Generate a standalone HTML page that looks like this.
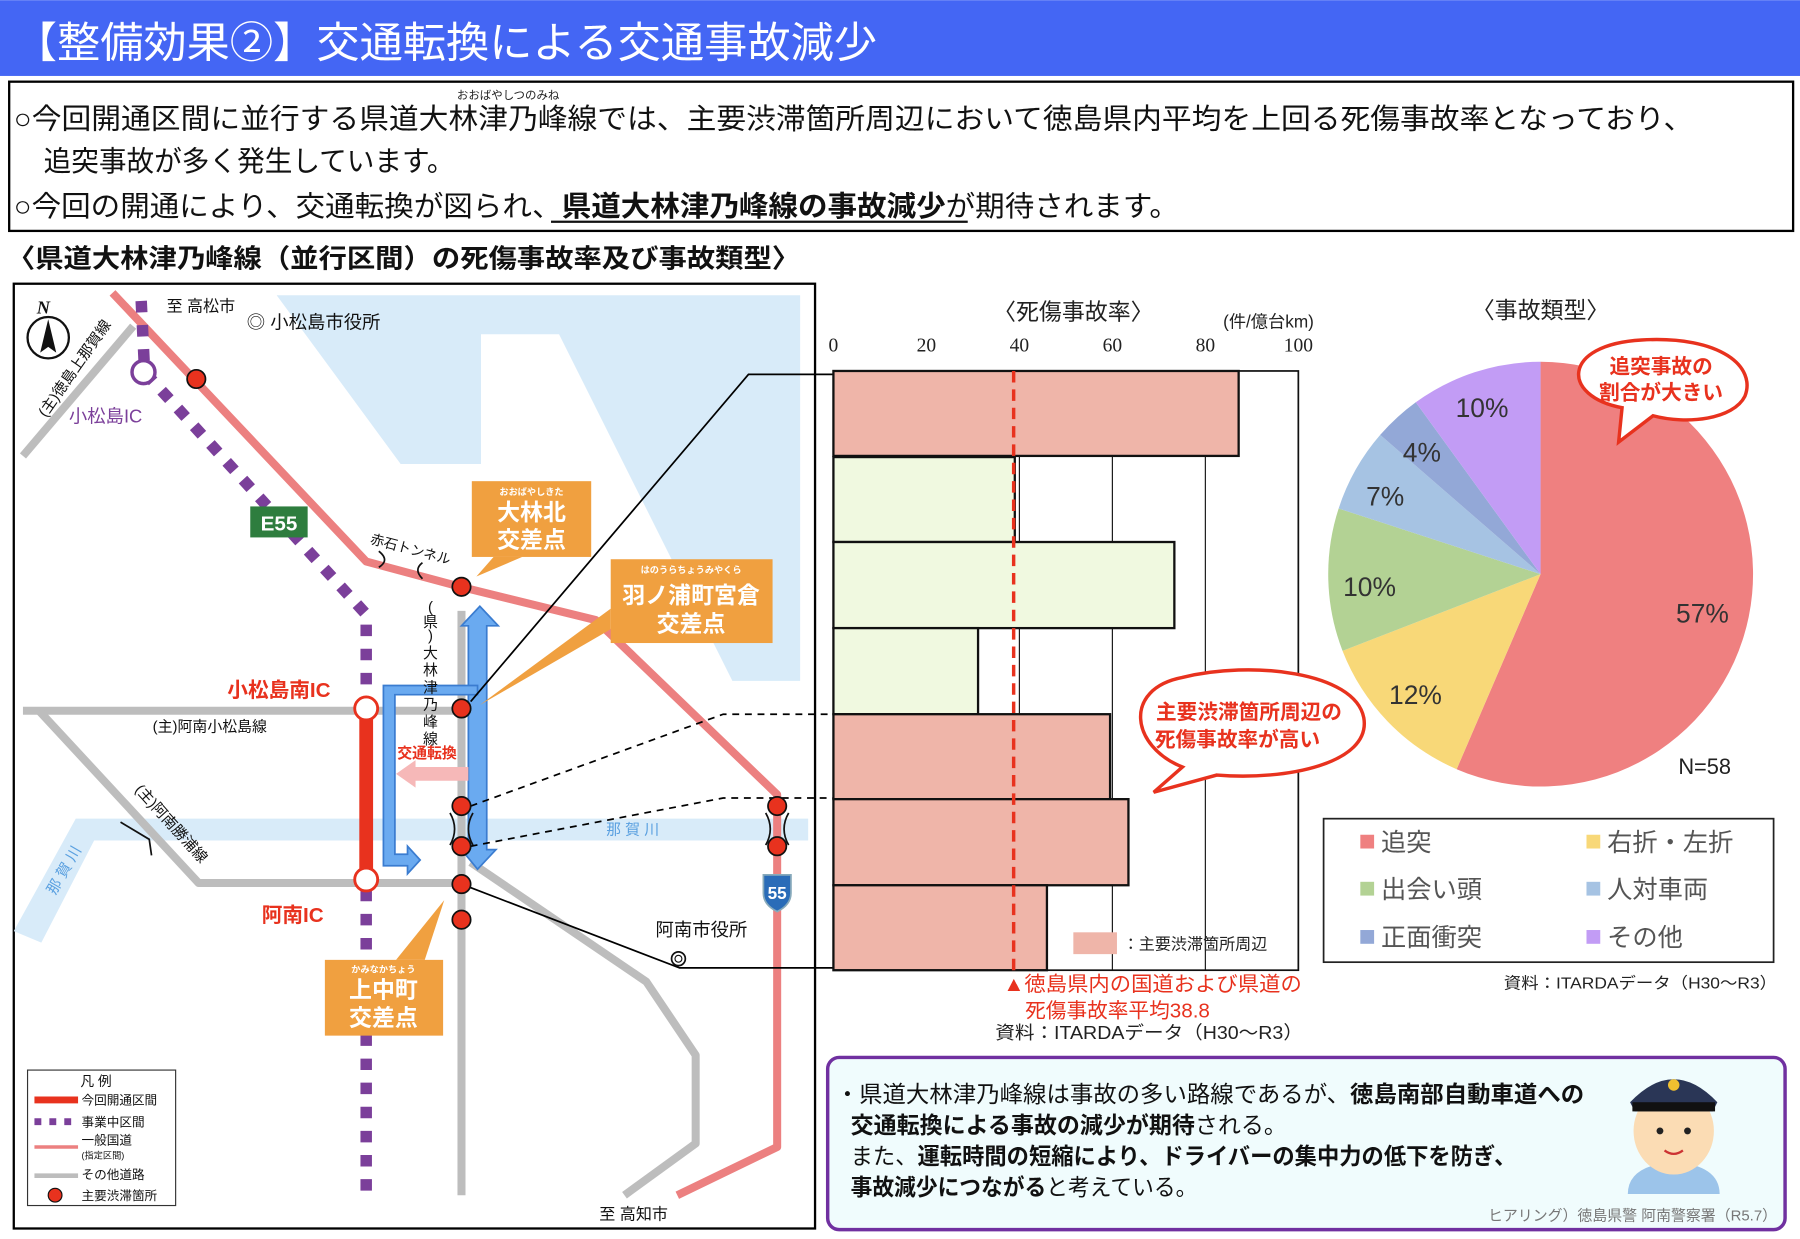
<!DOCTYPE html>
<html><head><meta charset="utf-8"><style>
html,body{margin:0;padding:0;background:#fff;}
svg{display:block;font-family:"Liberation Sans","Noto Sans CJK JP",sans-serif;}
.b{font-weight:bold}
</style></head><body>
<svg width="1800" height="1239" viewBox="0 0 1568 1079" xmlns="http://www.w3.org/2000/svg">
<rect width="1568" height="1079" fill="#fff"/>
<rect x="0" y="0" width="1568" height="66" fill="#4466f4"/>
<text x="12" y="50" font-size="37" fill="#fff" textLength="752" lengthAdjust="spacingAndGlyphs">【整備効果②】交通転換による交通事故減少</text>
<rect x="8" y="71" width="1554" height="130" fill="#fff" stroke="#000" stroke-width="2"/>
<text x="398" y="86" font-size="10" fill="#222">おおばやしつのみね</text>
<text x="12" y="112" font-size="25" fill="#111" textLength="1463" lengthAdjust="spacingAndGlyphs">○今回開通区間に並行する県道大林津乃峰線では、主要渋滞箇所周辺において徳島県内平均を上回る死傷事故率となっており、</text>
<text x="38" y="149" font-size="25" fill="#111" textLength="358" lengthAdjust="spacingAndGlyphs">追突事故が多く発生しています。</text>
<text x="12" y="188" font-size="25" fill="#111" textLength="1015" lengthAdjust="spacingAndGlyphs">○今回の開通により、交通転換が図られ、<tspan class="b">県道大林津乃峰線の事故減少</tspan>が期待されます。</text>
<line x1="480" y1="193" x2="843" y2="193" stroke="#111" stroke-width="2"/>
<text x="6" y="233" font-size="23" class="b" fill="#111" textLength="691" lengthAdjust="spacingAndGlyphs">〈県道大林津乃峰線（並行区間）の死傷事故率及び事故類型〉</text>

<!-- MAP -->
<rect x="12" y="247" width="698" height="823" fill="#fff" stroke="#000" stroke-width="2"/>
<polygon points="241,257 697,257 697,593 638,593 487,291 419,291 419,404 349,404" fill="#d8ebf9"/>
<polygon points="66,713 704,713 704,732 82,732 36,821 12,811" fill="#d8ebf9"/>
<g stroke="#bdbdbd" stroke-width="7" fill="none" stroke-linejoin="round">
<line x1="20" y1="397" x2="116" y2="284"/>
<line x1="20" y1="619" x2="401" y2="619"/>
<polyline points="34,619 173,769 401,769"/>
<line x1="402" y1="532" x2="402" y2="1041"/>
<polyline points="410,751 563,855 606,919 606,996 544,1041"/>
</g>
<polyline points="98,255 319,489 401,511 519,540 677,692 677,999 590,1041" fill="none" stroke="#ec8080" stroke-width="7" stroke-linejoin="round"/>
<polyline points="123,262 126,324 319,535 319,1041" fill="none" stroke="#7b3f9a" stroke-width="10" stroke-dasharray="10 11"/>
<circle cx="125" cy="324" r="10" fill="#fff" stroke="#7b3f9a" stroke-width="3"/>
<line x1="319" y1="619" x2="319" y2="766" stroke="#e8321e" stroke-width="12"/>
<circle cx="319" cy="617" r="10" fill="#fff" stroke="#e8321e" stroke-width="2.5"/>
<circle cx="319" cy="766" r="10" fill="#fff" stroke="#e8321e" stroke-width="2.5"/>
<!-- blue arrows -->
<polygon points="402,545 418,528 434,545 424,545 424,740 432,740 416,757 402,740 408,740 408,545" fill="#6aaaf0" stroke="#3a7cd0" stroke-width="1.5"/>
<polygon points="416,597 416,605 344,605 344,744 355,744 355,737 366,749 355,761 355,754 334,754 334,597" fill="#6aaaf0" stroke="#3a7cd0" stroke-width="1.5"/>
<polygon points="408,668 362,668 362,662 345,674 362,686 362,680 408,680" fill="#f6b8b8"/>
<text x="346" y="660" font-size="13" class="b" fill="#e8321e">交通転換</text>
<!-- leader lines -->
<polyline points="410,611 652,326 726,326" fill="none" stroke="#000" stroke-width="1.5"/>
<polyline points="410,702 630,622 726,622" fill="none" stroke="#000" stroke-width="1.5" stroke-dasharray="6 5"/>
<polyline points="410,737 630,695 726,695" fill="none" stroke="#000" stroke-width="1.5" stroke-dasharray="6 5"/>
<polyline points="402,770 592,843 726,843" fill="none" stroke="#000" stroke-width="1.5"/>
<g fill="#e8321e" stroke="#111" stroke-width="1.5">
<circle cx="171" cy="330" r="8"/><circle cx="402" cy="511" r="8"/><circle cx="402" cy="617" r="8"/>
<circle cx="402" cy="702" r="8"/><circle cx="402" cy="737" r="8"/><circle cx="402" cy="770" r="8"/>
<circle cx="402" cy="801" r="8"/><circle cx="677" cy="702" r="8"/><circle cx="677" cy="737" r="8"/>
</g>
<g fill="none" stroke="#111" stroke-width="1.5">
<path d="M392,708 q8,14 0,28 M412,708 q-8,14 0,28"/>
<path d="M667,708 q8,14 0,28 M687,708 q-8,14 0,28"/>
<path d="M330,480 q10,8 0,14 M368,490 q-8,6 0,14"/>
<path d="M105,716 l25,15 l2,14"/>
</g>
<!-- orange boxes -->
<polygon points="430,485 455,485 415,502" fill="#f0a040"/>
<rect x="411" y="419" width="104" height="66" fill="#f0a040"/>
<text x="463" y="431" font-size="8" class="b" fill="#fff" text-anchor="middle">おおばやしきた</text>
<text x="463" y="453" font-size="20" class="b" fill="#fff" text-anchor="middle">大林北</text>
<text x="463" y="477" font-size="20" class="b" fill="#fff" text-anchor="middle">交差点</text>
<polygon points="532,530 532,548 418,614" fill="#f0a040"/>
<rect x="532" y="487" width="141" height="73" fill="#f0a040"/>
<text x="602" y="499" font-size="8" class="b" fill="#fff" text-anchor="middle">はのうらちょうみやくら</text>
<text x="602" y="525" font-size="20" class="b" fill="#fff" text-anchor="middle">羽ノ浦町宮倉</text>
<text x="602" y="550" font-size="20" class="b" fill="#fff" text-anchor="middle">交差点</text>
<polygon points="345,836 370,836 387,784" fill="#f0a040"/>
<rect x="283" y="836" width="103" height="66" fill="#f0a040"/>
<text x="334" y="847" font-size="8" class="b" fill="#fff" text-anchor="middle">かみなかちょう</text>
<text x="334" y="869" font-size="20" class="b" fill="#fff" text-anchor="middle">上中町</text>
<text x="334" y="893" font-size="20" class="b" fill="#fff" text-anchor="middle">交差点</text>
<!-- labels -->
<rect x="218" y="441" width="50" height="27" fill="#2e7d3e"/>
<text x="243" y="462" font-size="18" class="b" fill="#fff" text-anchor="middle">E55</text>
<path d="M665,762 h24 v16 q0,10 -12,16 q-12,-6 -12,-16 z" fill="#2a6cb8" stroke="#8ab" stroke-width="1.5"/>
<text x="677" y="783" font-size="15" class="b" fill="#fff" text-anchor="middle">55</text>
<text x="145" y="271" font-size="14" fill="#111">至 高松市</text>
<text x="215" y="286" font-size="16" fill="#111">◎ 小松島市役所</text>
<text x="60" y="368" font-size="16" fill="#7b3f9a">小松島IC</text>
<text x="322" y="473" font-size="12" fill="#111" transform="rotate(15 322 473)">赤石トンネル</text>
<text x="198" y="607" font-size="18" class="b" fill="#e8321e">小松島南IC</text>
<text x="228" y="803" font-size="18" class="b" fill="#e8321e">阿南IC</text>
<text x="133" y="637" font-size="13" fill="#111">(主)阿南小松島線</text>
<text x="528" y="727" font-size="13" fill="#5aa0e0">那 賀 川</text>
<text x="48" y="780" font-size="13" fill="#5aa0e0" transform="rotate(-60 48 780)">那 賀 川</text>
<text x="117" y="688" font-size="13" fill="#111" transform="rotate(48 117 688)">(主)阿南勝浦線</text>
<text x="40" y="364" font-size="13" fill="#111" transform="rotate(-55 40 364)">(主)徳島上那賀線</text>
<g font-size="13" fill="#111" text-anchor="middle">
<text x="375" y="533">(</text><text x="375" y="546">県</text><text x="375" y="558">)</text><text x="375" y="573">大</text><text x="375" y="588">林</text><text x="375" y="603">津</text><text x="375" y="618">乃</text><text x="375" y="633">峰</text><text x="375" y="648">線</text>
</g>
<text x="571" y="815" font-size="16" fill="#111">阿南市役所</text>
<circle cx="591" cy="835" r="6" fill="none" stroke="#111" stroke-width="1.5"/><circle cx="591" cy="835" r="3" fill="none" stroke="#111"/>
<text x="522" y="1062" font-size="14" fill="#111">至 高知市</text>
<!-- compass -->
<text x="32" y="273" font-size="16" font-style="italic" class="b" fill="#111" font-family="Liberation Serif,serif">N</text>
<circle cx="42" cy="294" r="18" fill="#fff" stroke="#111" stroke-width="2"/>
<polygon points="42,278 35,307 42,302 49,307" fill="#111"/>
<!-- legend -->
<rect x="24" y="932" width="129" height="118" fill="#fff" stroke="#333" stroke-width="1"/>
<text x="70" y="946" font-size="12" fill="#111">凡 例</text>
<line x1="30" y1="958" x2="68" y2="958" stroke="#e8321e" stroke-width="6"/><text x="71" y="962" font-size="11" fill="#111">今回開通区間</text>
<line x1="30" y1="977" x2="68" y2="977" stroke="#7b3f9a" stroke-width="6" stroke-dasharray="6 7"/><text x="71" y="981" font-size="11" fill="#111">事業中区間</text>
<line x1="30" y1="999" x2="68" y2="999" stroke="#ec8080" stroke-width="3"/><text x="71" y="997" font-size="11" fill="#111">一般国道</text><text x="71" y="1009" font-size="8" fill="#111">(指定区間)</text>
<line x1="30" y1="1024" x2="68" y2="1024" stroke="#bdbdbd" stroke-width="4"/><text x="71" y="1027" font-size="11" fill="#111">その他道路</text>
<circle cx="48" cy="1041" r="6" fill="#e8321e" stroke="#111"/><text x="71" y="1045" font-size="11" fill="#111">主要渋滞箇所</text>

<!-- BAR CHART -->
<text x="935" y="278" font-size="20" fill="#222" text-anchor="middle">〈死傷事故率〉</text>
<text x="1105" y="285" font-size="15" fill="#222" text-anchor="middle">(件/億台km)</text>
<g font-size="17" fill="#222" text-anchor="middle" font-family="Liberation Serif,serif">
<text x="726" y="306">0</text><text x="807" y="306">20</text><text x="888" y="306">40</text><text x="969" y="306">60</text><text x="1050" y="306">80</text><text x="1131" y="306">100</text>
</g>
<rect x="726" y="323" width="405" height="522" fill="#fff" stroke="#111" stroke-width="1.5"/>
<g stroke="#111" stroke-width="1"><line x1="888" y1="323" x2="888" y2="845"/><line x1="969" y1="323" x2="969" y2="845"/><line x1="1050" y1="323" x2="1050" y2="845"/></g>
<g stroke="#111" stroke-width="2">
<rect x="726" y="323" width="353" height="74" fill="#efb5a9"/>
<rect x="726" y="398" width="158" height="74" fill="#f0f9e0"/>
<rect x="726" y="472" width="297" height="75" fill="#f0f9e0"/>
<rect x="726" y="547" width="126" height="75" fill="#f0f9e0"/>
<rect x="726" y="622" width="241" height="74" fill="#efb5a9"/>
<rect x="726" y="696" width="257" height="75" fill="#efb5a9"/>
<rect x="726" y="771" width="186" height="74" fill="#efb5a9"/>
</g>
<line x1="883" y1="323" x2="883" y2="845" stroke="#e8321e" stroke-width="3" stroke-dasharray="10 6"/>
<rect x="935" y="812" width="38" height="19" fill="#efb5a9"/>
<text x="978" y="827" font-size="14" fill="#222">：主要渋滞箇所周辺</text>
<text x="874" y="863" font-size="18" fill="#e8321e" textLength="260" lengthAdjust="spacingAndGlyphs">▲徳島県内の国道および県道の</text>
<text x="893" y="886" font-size="18" fill="#e8321e">死傷事故率平均38.8</text>
<text x="867" y="905" font-size="16" fill="#222" textLength="268" lengthAdjust="spacingAndGlyphs">資料：ITARDAデータ（H30～R3）</text>
<!-- callout -->
<path d="M1005,690 L1030,668 C985,650 978,600 1030,590 C1090,575 1180,585 1188,625 C1195,665 1120,680 1060,675 Z" fill="#fff" stroke="#e8321e" stroke-width="3"/>
<text x="1088" y="626" font-size="18" class="b" fill="#e8321e" text-anchor="middle">主要渋滞箇所周辺の</text>
<text x="1078" y="650" font-size="18" class="b" fill="#e8321e" text-anchor="middle">死傷事故率が高い</text>

<!-- PIE -->
<text x="1342" y="277" font-size="20" fill="#222" text-anchor="middle">〈事故類型〉</text>
<g transform="translate(1342,500)">
<path d="M0,0 L0,-185 A185,185 0 1 1 -73.1,169.9 Z" fill="#ef8080"/>
<path d="M0,0 L-73.1,169.9 A185,185 0 0 1 -172.5,66.8 Z" fill="#f8d878"/>
<path d="M0,0 L-172.5,66.8 A185,185 0 0 1 -175.9,-57.2 Z" fill="#b3d294"/>
<path d="M0,0 L-175.9,-57.2 A185,185 0 0 1 -139.7,-121.3 Z" fill="#a6c3e3"/>
<path d="M0,0 L-139.7,-121.3 A185,185 0 0 1 -108.7,-149.7 Z" fill="#93a8d7"/>
<path d="M0,0 L-108.7,-149.7 A185,185 0 0 1 0,-185 Z" fill="#c29cf5"/>
</g>
<g font-size="23" fill="#333">
<text x="1268" y="363">10%</text><text x="1222" y="402">4%</text><text x="1190" y="440">7%</text>
<text x="1170" y="519">10%</text><text x="1210" y="613">12%</text><text x="1460" y="542">57%</text>
</g>
<text x="1462" y="674" font-size="19" fill="#222">N=58</text>
<path d="M1410,385 L1413,355 C1360,345 1360,300 1430,296 C1500,292 1530,320 1520,345 C1510,365 1470,370 1440,362 Z" fill="#fff" stroke="#e8321e" stroke-width="3"/>
<text x="1447" y="325" font-size="18" class="b" fill="#e8321e" text-anchor="middle">追突事故の</text>
<text x="1447" y="348" font-size="18" class="b" fill="#e8321e" text-anchor="middle">割合が大きい</text>
<rect x="1153" y="713" width="392" height="125" fill="#fff" stroke="#222" stroke-width="1.5"/>
<g font-size="22" fill="#555">
<rect x="1185" y="727" width="12" height="12" fill="#ef8080"/><text x="1203" y="741">追突</text>
<rect x="1382" y="727" width="12" height="12" fill="#f8d878"/><text x="1400" y="741">右折・左折</text>
<rect x="1185" y="768" width="12" height="12" fill="#b3d294"/><text x="1203" y="782">出会い頭</text>
<rect x="1382" y="768" width="12" height="12" fill="#a6c3e3"/><text x="1400" y="782">人対車両</text>
<rect x="1185" y="810" width="12" height="12" fill="#93a8d7"/><text x="1203" y="824">正面衝突</text>
<rect x="1382" y="810" width="12" height="12" fill="#c29cf5"/><text x="1400" y="824">その他</text>
</g>
<text x="1310" y="861" font-size="14" fill="#222" textLength="238" lengthAdjust="spacingAndGlyphs">資料：ITARDAデータ（H30～R3）</text>

<!-- bottom box -->
<rect x="721" y="921" width="834" height="150" rx="10" fill="#f0fcfd" stroke="#7030a0" stroke-width="3"/>
<text x="728" y="960" font-size="20" fill="#111" textLength="652" lengthAdjust="spacingAndGlyphs">・県道大林津乃峰線は事故の多い路線であるが、<tspan class="b">徳島南部自動車道への</tspan></text>
<text x="741" y="987" font-size="20" fill="#111" textLength="380" lengthAdjust="spacingAndGlyphs"><tspan class="b">交通転換による事故の減少が期待</tspan>される。</text>
<text x="741" y="1014" font-size="20" fill="#111" textLength="580" lengthAdjust="spacingAndGlyphs">また、<tspan class="b">運転時間の短縮により、ドライバーの集中力の低下を防ぎ、</tspan></text>
<text x="741" y="1041" font-size="20" fill="#111" textLength="302" lengthAdjust="spacingAndGlyphs"><tspan class="b">事故減少につながる</tspan>と考えている。</text>
<text x="1548" y="1063" font-size="13" fill="#777" text-anchor="end">ヒアリング）徳島県警 阿南警察署（R5.7）</text>
<!-- policeman -->
<path d="M1418,1040 q0,-25 40,-28 q40,3 40,28 z" fill="#9cc4ea"/>
<ellipse cx="1458" cy="985" rx="35" ry="38" fill="#fbdcb4"/>
<path d="M1420,960 q38,-40 76,0 l-4,8 h-68 z" fill="#2a3656"/>
<rect x="1422" y="960" width="72" height="8" fill="#111"/>
<circle cx="1458" cy="945" r="5" fill="#f0c030"/>
<circle cx="1446" cy="985" r="3" fill="#222"/><circle cx="1470" cy="985" r="3" fill="#222"/>
<path d="M1450,1002 q8,6 16,0" fill="none" stroke="#c33" stroke-width="2"/>
</svg>
</body></html>
